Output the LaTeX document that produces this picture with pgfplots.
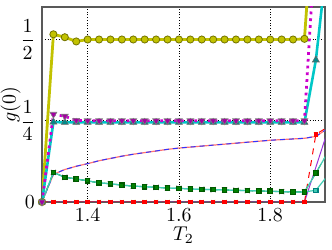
\documentclass[border=0pt]{standalone}
\usepackage{pgfplots}
\usepackage{pgfplotstable}
\pgfplotsset{compat=1.18}
\definecolor{yel}{rgb}{0.76,0.76,0.0}
\definecolor{yeldark}{rgb}{0.45,0.45,0.0}
\definecolor{mag}{rgb}{0.8,0.0,0.8}
\definecolor{cya}{rgb}{0.0,0.78,0.78}
\definecolor{grn}{rgb}{0.0,0.5,0.0}
\definecolor{tealc}{rgb}{0.25,0.8,0.7}
\definecolor{pur}{rgb}{0.6,0.2,0.85}
\definecolor{salmon}{rgb}{1.0,0.45,0.45}
\pgfplotstableread{
x     yel    mag    cya    red    curve  pur    grn    teal
1.300 0.000  0.000  0.000  0.000  0.000  0.000  0.000  0.000
1.325 0.516  0.270  0.246  0.000  0.085  0.000  0.091  0.091
1.350 0.507  0.264  0.245  0.000  0.100  0.000  0.076  0.076
1.375 0.494  0.251  0.245  0.000  0.110  0.000  0.071  0.071
1.400 0.500  0.250  0.245  0.000  0.118  0.000  0.065  0.065
1.425 0.500  0.250  0.245  0.000  0.127  0.000  0.059  0.059
1.450 0.500  0.250  0.245  0.000  0.134  0.000  0.056  0.056
1.475 0.500  0.250  0.245  0.000  0.141  0.000  0.052  0.052
1.500 0.500  0.250  0.245  0.000  0.147  0.000  0.049  0.049
1.525 0.500  0.250  0.245  0.000  0.152  0.000  0.047  0.047
1.550 0.500  0.250  0.245  0.000  0.157  0.000  0.045  0.045
1.575 0.500  0.250  0.245  0.000  0.162  0.000  0.043  0.043
1.600 0.500  0.250  0.245  0.000  0.166  0.000  0.042  0.042
1.625 0.500  0.250  0.245  0.000  0.169  0.000  0.040  0.040
1.650 0.500  0.250  0.245  0.000  0.172  0.000  0.039  0.039
1.675 0.500  0.250  0.245  0.000  0.175  0.000  0.038  0.038
1.700 0.500  0.250  0.245  0.000  0.178  0.000  0.037  0.037
1.725 0.500  0.250  0.245  0.000  0.181  0.000  0.036  0.036
1.750 0.500  0.250  0.245  0.000  0.184  0.000  0.035  0.035
1.775 0.500  0.250  0.245  0.000  0.187  0.000  0.034  0.034
1.800 0.500  0.250  0.245  0.000  0.190  0.000  0.033  0.033
1.825 0.500  0.250  0.245  0.000  0.192  0.000  0.032  0.032
1.850 0.500  0.250  0.245  0.000  0.194  0.000  0.031  0.031
1.875 0.502  0.250  0.245  0.000  0.196  0.000  0.031  0.031
1.900 1.000  0.830  0.437  0.208  0.202  0.107  0.089  0.036
1.925 1.500  1.400  0.750  0.230  0.225  0.215  0.150  0.080
}\data
\begin{document}
\begin{tikzpicture}
\begin{axis}[
  scale only axis,
  width=141.5bp, height=97.5bp,
  xmin=1.3, xmax=1.92, ymin=0, ymax=0.6,
  xtick={1.4,1.6,1.8},
  xticklabels={$1.4$,$1.6$,$1.8$},
  ytick={0,0.25,0.5},
  yticklabels={$0$,$\displaystyle\frac{1}{4}$,$\displaystyle\frac{1}{2}$},
  grid=major,
  major grid style={black, densely dotted, line width=0.4pt},
  major tick length=0pt,
  axis line style={black!65, line width=0.8pt},
  xlabel={$T_2$}, ylabel={$g(0)$},
  xlabel style={yshift=4.5pt},
  ylabel style={yshift=-7pt},
  clip=true,
]
\addplot[only marks, mark=x, mark size=1.5pt, draw=yel!50] table[x=x,y=red]{\data};
\addplot[pur, line width=0.5pt] table[x=x,y=pur]{\data};
\addplot[red, dashed, line width=0.5pt, mark=square*, mark size=0.9pt, mark options={solid, fill=red}] table[x=x,y=red]{\data};
\addplot[salmon, line width=0.6pt] table[x=x,y=curve]{\data};
\addplot[blue!80, dashed, line width=0.5pt, dash pattern=on 2.5pt off 2pt] table[x=x,y=curve]{\data};
\addplot[tealc, line width=0.6pt, mark=square*, mark size=1.1pt, mark options={fill=tealc, draw=teal}] table[x=x,y=teal]{\data};
\addplot[grn, dashed, line width=0.5pt, mark=x, mark size=1.8pt, mark options={solid, draw=black!55}] table[x=x,y=grn]{\data};
\addplot[tealc, line width=0.6pt, mark=square*, mark size=1.1pt, mark options={fill=grn, draw=grn!70!black}] table[x=x,y=grn]{\data};
\addplot[yel, line width=1.4pt, mark=*, mark size=1.8pt, mark options={fill=yel, draw=yeldark, line width=0.4pt}] table[x=x,y=yel]{\data};
\addplot[cya, line width=1.3pt, mark=triangle*, mark size=2pt, mark options={fill=cya!70!black, draw=black!60, line width=0.3pt}] table[x=x,y=cya]{\data};
\addplot[mag, line width=1.4pt, dotted, mark=triangle*, mark size=2pt, mark options={solid, rotate=180, fill=mag!80!black, draw=black!50, line width=0.3pt}] table[x=x,y=mag]{\data};
\end{axis}
\pgfresetboundingbox
\path ([shift={(-21bp,-24bp)}]current axis.south west) rectangle ([shift={(3.5bp,3.5bp)}]current axis.north east);
\end{tikzpicture}
\end{document}
